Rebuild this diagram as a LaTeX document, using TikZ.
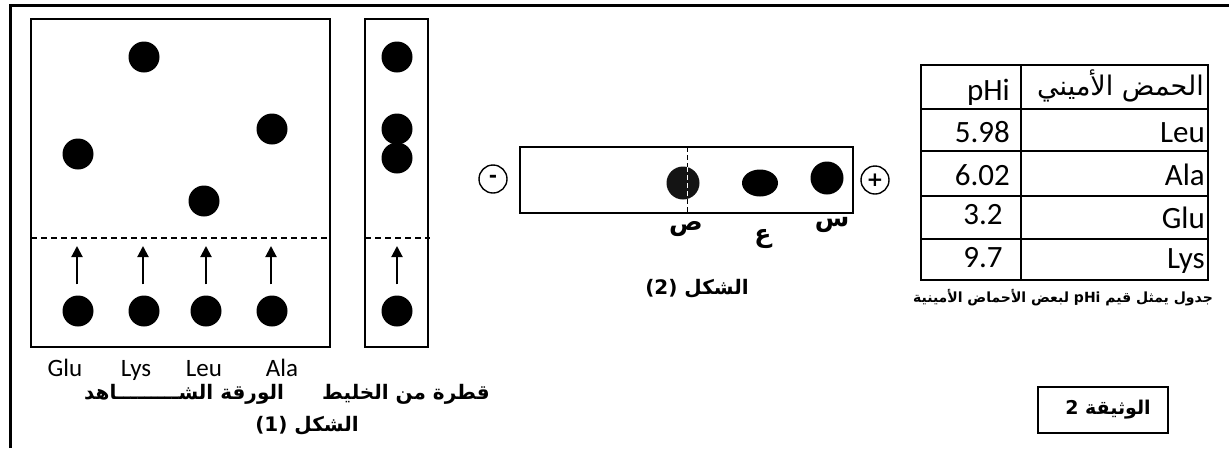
\documentclass[tikz,border=0pt]{standalone}
\usepackage{fontspec}
\setmainfont{Carlito}
\newfontfamily\arabicfont[Script=Arabic]{DejaVu Sans}
\newfontfamily\symfont{DejaVu Sans}
\TeXXeTstate=1
\usetikzlibrary{arrows.meta,shapes.geometric}
\tikzset{
  dot/.style={circle, fill=black, inner sep=0pt, minimum size=31pt},
  paper/.style={draw=black, line width=1.3pt},
  dashline/.style={line width=1.2pt, dash pattern=on 6pt off 4pt},
  arr/.style={line width=2pt, -{Triangle[width=11pt,length=11pt]}},
  lat/.style={font=\fontsize{25}{28}\selectfont, inner sep=0pt, anchor=base},
  ar/.style={font=\arabicfont\bfseries\fontsize{20}{22}\selectfont, inner sep=0pt},
  arreg/.style={font=\arabicfont\fontsize{27}{29}\selectfont, inner sep=0pt},
  cell/.style={font=\fontsize{31}{34}\selectfont, inner sep=0pt},
  lbl/.style={font=\arabicfont\bfseries\fontsize{25}{28}\selectfont, inner sep=0pt},
  sign/.style={circle, draw=black, line width=1.4pt, minimum size=28pt, inner sep=0pt, font=\symfont\bfseries\fontsize{20}{22}\selectfont},
}
\begin{document}
\begin{tikzpicture}[x=1pt, y=-1pt]
\useasboundingbox (0,0) rectangle (1229,448);
% outer frame (top and left)
\draw[line width=3pt] (10,448) -- (10,5) -- (1229,5);

% ---------- Figure 1 ----------
\draw[paper] (31,19) rectangle (330,347);
\draw[paper] (365,19) rectangle (428,347);
\draw[dashline] (31,238) -- (330,238);
\draw[dashline] (365,238) -- (430,238);

% top dots
\node[dot] (gt) at (78,154) {};
\node[dot] (lt) at (144,57) {};
\node[dot] (et) at (204,201) {};
\node[dot] (at) at (272,129) {};
% bottom dots
\node[dot] (gb) at (78,311) {};
\node[dot] (lb) at (144,311) {};
\node[dot] (eb) at (206,311) {};
\node[dot] (ab) at (272,311) {};
% mixture strip
\node[dot] (m1) at (397,57) {};
\node[dot] (m2) at (397,129) {};
\node[dot] (m3) at (397,158) {};
\node[dot] (mb) at (397,311) {};

\coordinate (ga) at (77,246);
\coordinate (la) at (143,246);
\coordinate (ea) at (206,246);
\coordinate (aa) at (271,246);
\coordinate (ma) at (397,246);
\draw[arr] ([yshift=11pt]gb.north -| ga) -- (ga);
\draw[arr] ([yshift=11pt]lb.north -| la) -- (la);
\draw[arr] ([yshift=11pt]eb.north -| ea) -- (ea);
\draw[arr] ([yshift=11pt]ab.north -| aa) -- (aa);
\draw[arr] ([yshift=11pt]mb.north -| ma) -- (ma);

\node[lat] (glu) at (65,376) {Glu};
\node[lat] (lys) at (136,376) {Lys};
\node[lat] (leu) at (204,376) {Leu};
\node[lat] (ala) at (282,376) {Ala};

\node[ar] (temoin) at (184,394) {\beginR الورقة الشـــــــــاهد\endR};
\node[ar] (melange) at (406,394) {\beginR قطرة من الخليط\endR};
\node[ar] (fig1) at (307,426) {\beginR الشكل (\beginL1\endL)\endR};

% ---------- Figure 2 ----------
\draw[paper] (520,147) rectangle (853,213);
\node[circle, fill=black!92, inner sep=0pt, minimum width=31pt, minimum height=33pt] (sad) at (683,183) {};
\node[ellipse, fill=black, inner sep=0pt, minimum width=36pt, minimum height=27pt] (ain) at (760,183) {};
\node[circle, fill=black, inner sep=0pt, minimum width=31pt, minimum height=33pt] (sin) at (827,178) {};
\draw[line width=1pt, dash pattern=on 5pt off 3pt, white] (687,167) -- (687,199);
\draw[line width=1pt, dash pattern=on 5pt off 3pt] (687,147) -- (687,167);
\draw[line width=1pt, dash pattern=on 5pt off 3pt] (687,199) -- (687,213);

\node[sign] (minus) at (493,179) {-};
\node[sign] (plus) at (875,180) {+};

\node[lbl] (lsad) at (686,229) {ص};
\node[lbl] (lain) at (763,239) {ع};
\node[lbl] (lsin) at (832,225) {س};
\node[ar] (fig2) at (697,289) {\beginR الشكل (\beginL2\endL)\endR};

% ---------- Table ----------
\draw[line width=1.3pt] (921,65) rectangle (1208,280);
\draw[line width=1.3pt] (1021,65) -- (1021,280);
\foreach \yy in {109,151,196,239} \draw[line width=1.1pt] (921,\yy) -- (1208,\yy);

\node[cell, anchor=base east] (h1) at (1010,100) {pHi};
\node[arreg, anchor=east] (h2) at (1204,86) {\beginR الحمض الأميني\endR};
\node[cell, anchor=base east] (v1) at (1010,142) {5.98};
\node[cell, anchor=base east] (n1) at (1205,142) {Leu};
\node[cell, anchor=base east] (v2) at (1010,185) {6.02};
\node[cell, anchor=base east] (n2) at (1205,185) {Ala};
\node[cell, anchor=base] (v3) at (983,224) {3.2};
\node[cell, anchor=base east] (n3) at (1205,228) {Glu};
\node[cell, anchor=base] (v4) at (983,267) {9.7};
\node[cell, anchor=base east] (n4) at (1205,268) {Lys};

\node[ar, font=\arabicfont\bfseries\fontsize{14}{16}\selectfont] (cap) at (1063,298) {\beginR جدول يمثل قيم \beginL pHi\endL{} لبعض الأحماض الأمينية\endR};

% ---------- Document label ----------
\draw[line width=1.3pt] (1038,387) rectangle (1168,433);
\node[ar, font=\arabicfont\bfseries\fontsize{19}{21}\selectfont] (doc) at (1108,410) {\beginR الوثيقة \beginL2\endL\endR};
\end{tikzpicture}
\end{document}
